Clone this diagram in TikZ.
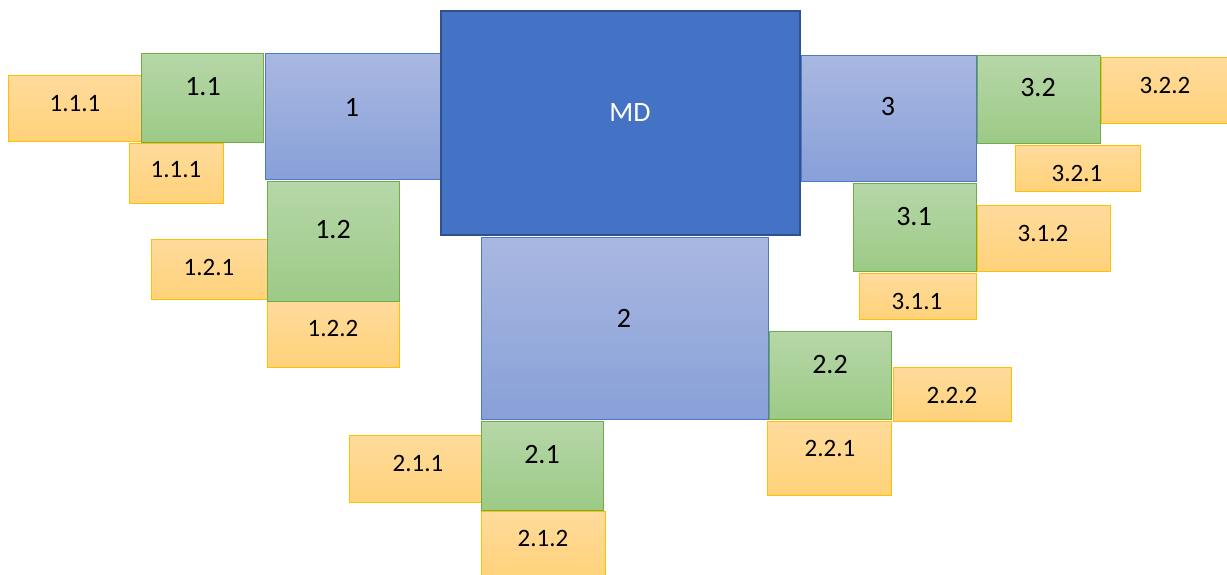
\documentclass[tikz,border=0pt]{standalone}
\usepackage{fontspec}
\setmainfont{Carlito}
\definecolor{mdfill}{RGB}{68,114,196}
\definecolor{mdline}{RGB}{47,82,143}
\definecolor{btop}{RGB}{169,184,225}
\definecolor{bbot}{RGB}{136,160,216}
\definecolor{bline}{RGB}{79,120,200}
\definecolor{gtop}{RGB}{182,215,168}
\definecolor{gbot}{RGB}{157,202,134}
\definecolor{gline}{RGB}{112,173,71}
\definecolor{otop}{RGB}{255,219,156}
\definecolor{obot}{RGB}{255,210,122}
\definecolor{oline}{RGB}{255,192,0}
\tikzset{
  boxbase/.style={rectangle, inner sep=0pt, outer sep=0pt},
  mdbox/.style={boxbase, fill=mdfill, draw=mdline, line width=2.5pt},
  lvone/.style={boxbase, top color=btop, bottom color=bbot, draw=bline, line width=0.9pt},
  lvtwo/.style={boxbase, top color=gtop, bottom color=gbot, draw=gline, line width=0.9pt},
  lvthree/.style={boxbase, top color=otop, bottom color=obot, draw=oline, line width=0.9pt},
  bigtxt/.style={inner sep=0pt, font=\fontsize{28}{32}\selectfont},
  smalltxt/.style={inner sep=0pt, font=\fontsize{25}{30}\selectfont},
}
% #1 style, #2 name, #3 x1, #4 y1, #5 x2, #6 y2
\newcommand\mkbox[6]{%
  \node[#1, minimum width={(#5-#3)*1pt}, minimum height={(#6-#4)*1pt}] (#2) at ({(#3+#5)/2},{(#4+#6)/2}) {};%
}
\begin{document}
\begin{tikzpicture}[x=1pt,y=-1pt]
\useasboundingbox (0,0) rectangle (1227,574);
% level 3 (orange)
\mkbox{lvthree}{b111a}{8}{75}{142}{141}
\mkbox{lvthree}{b111b}{129}{143}{223}{203}
\mkbox{lvthree}{b121}{151}{239}{268}{299}
\mkbox{lvthree}{b122}{267}{301}{399}{367}
\mkbox{lvthree}{b322}{1101}{57}{1229}{123}
\mkbox{lvthree}{b321}{1015}{145}{1140}{191}
\mkbox{lvthree}{b312}{977}{205}{1110}{271}
\mkbox{lvthree}{b311}{859}{273}{976}{319}
\mkbox{lvthree}{b222}{893}{367}{1011}{421}
\mkbox{lvthree}{b221}{767}{421}{891}{495}
\mkbox{lvthree}{b211}{349}{435}{481}{502}
\mkbox{lvthree}{b212}{481}{511}{605}{577}
% level 2 (green)
\mkbox{lvtwo}{b11}{141}{53}{263}{142}
\mkbox{lvtwo}{b12}{267}{181}{399}{301}
\mkbox{lvtwo}{b32}{977}{55}{1100}{143}
\mkbox{lvtwo}{b31}{853}{183}{976}{271}
\mkbox{lvtwo}{b22}{769}{331}{891}{419}
\mkbox{lvtwo}{b21}{481}{421}{603}{510}
% level 1 (blue)
\mkbox{lvone}{b1}{265}{53}{440}{179}
\mkbox{lvone}{b3}{801}{55}{976}{181}
\mkbox{lvone}{b2}{481}{237}{768}{419}
% main
\mkbox{mdbox}{bmd}{441}{11}{800}{235}
% texts
\node[bigtxt, text=white] (tmd) at (630,113) {MD};
\node[bigtxt] (t1) at (352,107) {1};
\node[bigtxt] (t2) at (624,318) {2};
\node[bigtxt] (t3) at (888,107) {3};
\node[bigtxt] (t11) at (203,87) {1.1};
\node[bigtxt] (t12) at (333,230) {1.2};
\node[bigtxt] (t32) at (1038,88) {3.2};
\node[bigtxt] (t31) at (914,217) {3.1};
\node[bigtxt] (t22) at (830,365) {2.2};
\node[bigtxt] (t21) at (542,455) {2.1};
\node[smalltxt] (t111a) at (75,104) {1.1.1};
\node[smalltxt] (t111b) at (176,170) {1.1.1};
\node[smalltxt] (t121) at (209,267) {1.2.1};
\node[smalltxt] (t122) at (333,328) {1.2.2};
\node[smalltxt] (t322) at (1165,85) {3.2.2};
\node[smalltxt] (t321) at (1077,173) {3.2.1};
\node[smalltxt] (t312) at (1043,233) {3.1.2};
\node[smalltxt] (t311) at (917,301) {3.1.1};
\node[smalltxt] (t222) at (952,395) {2.2.2};
\node[smalltxt] (t221) at (830,448) {2.2.1};
\node[smalltxt] (t211) at (418,463) {2.1.1};
\node[smalltxt] (t212) at (543,538) {2.1.2};
\end{tikzpicture}
\end{document}
